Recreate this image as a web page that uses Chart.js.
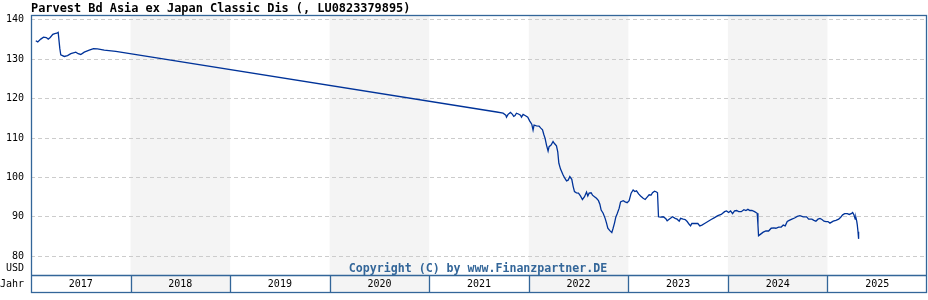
<!DOCTYPE html>
<html>
<head>
<meta charset="utf-8">
<title>Parvest Bd Asia ex Japan Classic Dis</title>
<script src="https://cdn.jsdelivr.net/npm/chart.js@4.4.1/dist/chart.umd.min.js"></script>
<style>
   html, body { margin: 0; padding: 0; background: #fff; }
   #wrap { width: 928px; height: 300px; }
</style>
</head>
<body>
<div id="wrap"><canvas id="chart__1" width="928" height="300"></canvas></div>
<script>
// DATA (dates as decimal years)
var chartTitle = "Parvest Bd Asia ex Japan Classic Dis (, LU0823379895)";
var copyrightText = "Copyright (C) by www.Finanzpartner.DE";
var currencyLabel = "USD";
var yearAxisLabel = "Jahr";

var yearLabels = ["2017", "2018", "2019", "2020", "2021", "2022", "2023", "2024", "2025"];
var shadedYears = [2018, 2020, 2022, 2024];
var yTicks = [80, 90, 100, 110, 120, 130, 140];

var fundDates = [
   2017.048, 2017.068, 2017.098, 2017.126, 2017.153, 2017.173, 2017.193, 2017.219, 2017.239, 2017.259,
   2017.273, 2017.289, 2017.299, 2017.334, 2017.367, 2017.4, 2017.45, 2017.474, 2017.5, 2017.535,
   2017.585, 2017.628, 2017.668, 2017.736, 2017.852, 2021.678,
   2021.742, 2021.769, 2021.776, 2021.792, 2021.816, 2021.836, 2021.849, 2021.862, 2021.876, 2021.896,
   2021.917, 2021.927, 2021.943, 2021.963, 2021.99, 2022.01, 2022.03, 2022.043, 2022.053, 2022.077,
   2022.103, 2022.121, 2022.138, 2022.151, 2022.164, 2022.178, 2022.194, 2022.204, 2022.224, 2022.244,
   2022.258, 2022.278, 2022.291, 2022.302, 2022.319, 2022.332, 2022.345, 2022.362, 2022.379, 2022.395,
   2022.412,
   2022.432, 2022.445, 2022.459, 2022.479, 2022.499, 2022.519, 2022.539, 2022.56, 2022.58, 2022.593,
   2022.606, 2022.626, 2022.64, 2022.66, 2022.68, 2022.7, 2022.714, 2022.727, 2022.747, 2022.767,
   2022.781, 2022.794, 2022.814, 2022.834, 2022.847, 2022.861, 2022.874, 2022.887, 2022.908, 2022.922,
   2022.948, 2022.968, 2022.988, 2023.008, 2023.028, 2023.048, 2023.065, 2023.082, 2023.103, 2023.123,
   2023.149, 2023.169, 2023.189, 2023.209, 2023.229, 2023.243, 2023.263, 2023.283, 2023.293, 2023.303,
   2023.324, 2023.35, 2023.377, 2023.39, 2023.41,
   2023.444, 2023.47, 2023.49, 2023.511, 2023.525, 2023.551, 2023.571, 2023.591, 2023.611, 2023.625,
   2023.638, 2023.665, 2023.698, 2023.718, 2023.739, 2023.766, 2023.799, 2023.832, 2023.866, 2023.899,
   2023.933, 2023.967, 2023.987, 2024.007, 2024.027, 2024.047, 2024.067, 2024.087, 2024.108, 2024.134,
   2024.161, 2024.181, 2024.201, 2024.221, 2024.241, 2024.268, 2024.294, 2024.302, 2024.308, 2024.329,
   2024.355, 2024.382, 2024.409, 2024.435, 2024.462, 2024.482, 2024.51, 2024.536, 2024.556, 2024.576,
   2024.596, 2024.616, 2024.643, 2024.67, 2024.697, 2024.724,
   2024.757, 2024.791, 2024.811, 2024.844, 2024.864, 2024.884, 2024.905, 2024.925, 2024.945, 2024.965,
   2024.985, 2025.005, 2025.025, 2025.038, 2025.058, 2025.085, 2025.113, 2025.133, 2025.153, 2025.173,
   2025.199, 2025.219, 2025.239, 2025.253, 2025.266, 2025.279, 2025.286, 2025.294, 2025.299, 2025.307,
   2025.313
];

var fundValues = [
   134.7, 134.4, 135.1, 135.6, 135.5, 135.1, 135.5, 136.3, 136.5, 136.6,
   136.8, 132.8, 131.1, 130.7, 130.9, 131.4, 131.8, 131.4, 131.2, 131.8,
   132.3, 132.7, 132.6, 132.3, 132.0, 116.6,
   116.3, 115.8, 115.3, 116.0, 116.5, 116.0, 115.5, 115.7, 116.3, 116.1,
   115.8, 115.3, 116.0, 115.7, 115.3, 114.3, 113.5, 112.0, 113.3, 113.1,
   113.0, 112.5, 112.1, 110.9, 109.9, 108.2, 106.7, 107.8, 108.2, 109.1,
   108.6, 108.0, 106.5, 103.6, 102.1, 101.4, 100.6, 99.8, 99.1, 99.3,
   100.2,
   99.5, 97.8, 96.4, 96.1, 96.0, 95.3, 94.4, 95.1, 96.3, 95.3,
   96.0, 96.1, 95.5, 95.1, 94.7, 94.1, 93.2, 91.7, 90.9, 89.6,
   88.4, 87.1, 86.5, 86.0, 87.1, 88.4, 89.9, 90.7, 92.2, 93.8,
   94.1, 93.8, 93.6, 94.1, 96.0, 96.8, 96.4, 96.6, 95.8, 95.3,
   94.7, 94.4, 95.0, 95.6, 95.5, 96.1, 96.5, 96.3, 96.1, 90.0,
   89.9, 90.0, 89.5, 89.0, 89.4,
   90.0, 89.6, 89.4, 88.9, 89.6, 89.4, 89.3, 88.8, 88.1, 87.7,
   88.3, 88.3, 88.3, 87.7, 87.9, 88.3, 88.8, 89.3, 89.8, 90.3,
   90.6, 91.3, 91.5, 91.1, 91.5, 90.8, 91.5, 91.6, 91.3, 91.3,
   91.8, 91.6, 91.9, 91.6, 91.6, 91.3, 90.9, 87.9, 85.2, 85.6,
   86.1, 86.4, 86.4, 87.1, 87.2, 87.1, 87.4, 87.4, 87.9, 87.7,
   88.8, 89.1, 89.4, 89.7, 90.1, 90.3,
   90.0, 90.0, 89.4, 89.4, 89.1, 88.9, 89.4, 89.6, 89.3, 88.9,
   88.8, 88.8, 88.4, 88.6, 88.9, 89.1, 89.4, 89.9, 90.5, 90.8,
   90.8, 90.6, 90.8, 91.1, 90.5, 89.4, 89.8, 88.9, 88.1, 86.2,
   84.4
];

// STYLE
var MONO = "'DejaVu Sans Mono', 'Liberation Mono', monospace";
var frameColor = "#336699";
var bandHeight = 17;

// PLUGIN -> shaded years, frame, year row and texts
var frankfurtFrame = {
   id: "frankfurtFrame",
   beforeDraw: function (chart) {
      var ctx = chart.ctx;
      var xs = chart.scales.x;
      var area = chart.chartArea;
      ctx.save();
      ctx.fillStyle = "#f4f4f4";
      shadedYears.forEach(function (yr) {
         var x0 = xs.getPixelForValue(yr);
         var x1 = xs.getPixelForValue(yr + 1);
         ctx.fillRect(x0, area.top, x1 - x0, area.bottom + bandHeight - area.top);
      });
      ctx.restore();
   },
   afterDraw: function (chart) {
      var ctx = chart.ctx;
      var xs = chart.scales.x;
      var area = chart.chartArea;
      var bandBottom = area.bottom + bandHeight;
      ctx.save();

      // frame
      ctx.strokeStyle = frameColor;
      ctx.lineWidth = 1.3;
      ctx.strokeRect(area.left + 0.5, area.top + 0.5, area.right - area.left - 1, bandBottom - area.top);
      ctx.beginPath();
      ctx.moveTo(area.left, area.bottom + 0.5);
      ctx.lineTo(area.right, area.bottom + 0.5);
      for (var i = 1; i < yearLabels.length; i++) {
         var xb = Math.round(xs.getPixelForValue(parseInt(yearLabels[i]))) + 0.5;
         ctx.moveTo(xb, area.bottom);
         ctx.lineTo(xb, bandBottom + 0.5);
      }
      ctx.stroke();

      // year labels
      ctx.fillStyle = "#000";
      ctx.font = "10px " + MONO;
      ctx.textAlign = "center";
      ctx.textBaseline = "middle";
      yearLabels.forEach(function (label) {
         var yr = parseInt(label);
         var xm = (xs.getPixelForValue(yr) + xs.getPixelForValue(yr + 1)) / 2;
         ctx.fillText(label, xm, area.bottom + 9);
      });
      ctx.textAlign = "right";
      ctx.fillText(currencyLabel, area.left - 7, area.bottom - 7);
      ctx.fillText(yearAxisLabel, area.left - 7, area.bottom + 9);

      // title
      ctx.textAlign = "left";
      ctx.textBaseline = "alphabetic";
      ctx.font = "bold 11.9px " + MONO;
      ctx.fillText(chartTitle, area.left, 12);

      // copyright
      ctx.fillStyle = frameColor;
      ctx.font = "bold 11.6px " + MONO;
      ctx.textAlign = "center";
      ctx.fillText(copyrightText, 478, 272);
      ctx.restore();
   }
};

var ctx1 = document.getElementById("chart__1").getContext("2d");
window.chart1 = new Chart(ctx1, {
   type: "line",
   data: {
      datasets: [
         {
            label: "Parvest Bd Asia ex Japan Classic Dis",
            data: fundDates.map(function (d, i) {
               return { x: d, y: fundValues[i] };
            }),
            borderColor: "#003399",
            borderWidth: 1.3,
            pointRadius: 0,
            tension: 0,
            fill: false,
         },
      ],
   },
   options: {
      responsive: false,
      animation: false,
      layout: { padding: { top: 15, right: 1, bottom: 25, left: 0 } },
      plugins: {
         legend: { display: false },
         tooltip: { enabled: false },
         title: { display: false },
      },
      scales: {
         x: {
            type: "linear",
            min: 2017,
            max: 2026,
            display: false,
         },
         y: {
            min: 75.23,
            max: 141.22,
            afterBuildTicks: function (scale) {
               scale.ticks = yTicks.map(function (v) {
                  return { value: v };
               });
            },
            afterFit: function (scale) {
               scale.width = 31;
            },
            grid: {
               color: "#cccccc",
               lineWidth: 1,
               drawTicks: false,
            },
            border: { display: false, dash: [4, 3] },
            ticks: {
               color: "#000",
               padding: 7,
               font: { family: MONO, size: 10 },
            },
         },
      },
   },
   plugins: [frankfurtFrame],
});
</script>
</body>
</html>
